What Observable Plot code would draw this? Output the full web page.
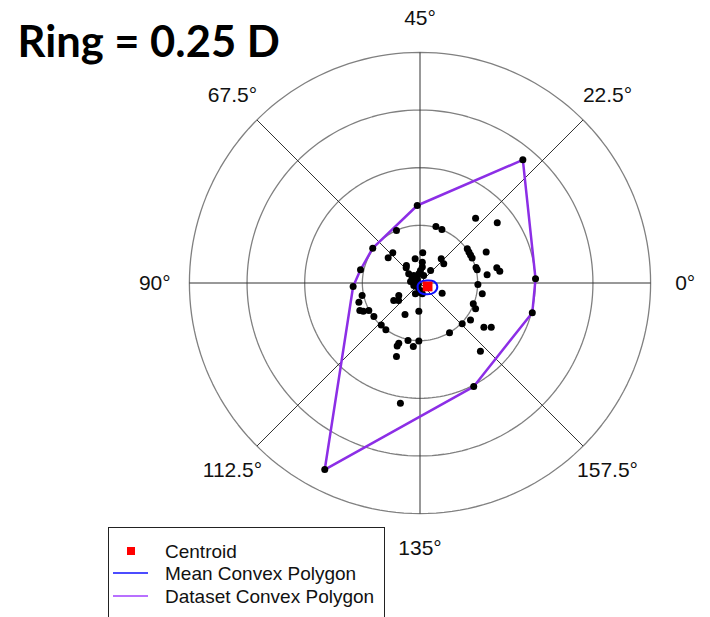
<!DOCTYPE html>
<html><head><meta charset="utf-8">
<script src="https://cdn.jsdelivr.net/npm/d3@7"></script>
<script src="https://cdn.jsdelivr.net/npm/@observablehq/plot@0.6"></script>
<style>
body{margin:0;background:#fff;}
#wrap{position:relative;width:710px;height:617px;overflow:hidden;background:#fff;}
#legend{position:absolute;left:108px;top:527px;}
</style></head>
<body><div id="wrap"></div>
<script>
// ---- data ----
const titleText = "Ring = 0.25 D";
const ringRadii = [0.25, 0.5, 0.75, 1.0];
const axisTicks = [0, 22.5, 45, 67.5, 90, 112.5, 135, 157.5];
// double-angle vector components (D)
const pointX = [0.446,-0.012,-0.205,-0.258,-0.290,-0.413,0.233,0.487,0.501,
 -0.102,-0.118,-0.138,0.012,-0.021,-0.060,-0.049,-0.034,0.002,0.016,-0.012,0.010,0.010,0.092,0.103,0.046,-0.059,
 -0.027,-0.005,-0.027,-0.012,-0.015,-0.005,-0.020,0.096,-0.114,-0.092,-0.093,-0.065,-0.005,-0.052,-0.029,-0.005,
 -0.092,-0.099,-0.102,-0.085,-0.251,-0.265,-0.261,-0.246,-0.222,-0.200,-0.168,-0.148,0.002,0.010,0.251,0.270,
 0.231,0.241,0.219,0.183,0.277,0.309,0.128,0.262,0.241,0.335,0.069,0.095,0.205,0.212,0.219,0.226,0.287,0.243,
 0.248,0.333,0.346,0.291,-0.027,-0.041,-0.007];
const pointY = [0.534,0.336,0.151,0.057,-0.015,-0.809,-0.449,-0.129,0.018,
 0.228,0.131,0.109,0.131,0.105,0.066,0.040,0.023,0.054,0.033,0.018,0.069,0.090,0.105,0.083,0.054,0.076,
 0.033,0.040,0.014,0.011,-0.015,-0.040,-0.047,-0.044,-0.076,-0.054,-0.076,-0.137,-0.122,-0.249,-0.275,-0.252,
 -0.261,-0.273,-0.319,-0.521,-0.054,-0.083,-0.119,-0.122,-0.119,-0.145,-0.182,-0.203,-0.033,-0.047,-0.007,-0.047,
 -0.090,-0.112,-0.160,-0.177,-0.192,-0.192,-0.216,-0.296,0.281,0.261,0.245,0.232,0.148,0.134,0.121,0.108,0.134,0.067,
 0.057,0.066,0.051,0.036,-0.011,0.007,-0.007];
const centroidX = [0.033];
const centroidY = [-0.015];
const meanPolyX = [-0.010,0.002,0.031,0.060,0.075,0.063,0.031,-0.001];
const meanPolyY = [-0.011,0.005,0.011,0.007,-0.015,-0.040,-0.049,-0.040];
const legendLabels = ["Centroid", "Mean Convex Polygon", "Dataset Convex Polygon"];

// ---- build ----
const W = 710, H = 617, cx = 419.5, cy = 282.5, R = 230.6;
const rad = d => d * Math.PI / 180;
const points = pointX.map((x, i) => ({x, y: pointY[i]}));
const meanPoly = meanPolyX.map((x, i) => ({x, y: meanPolyY[i]}));
const centroid = centroidX.map((x, i) => ({x, y: centroidY[i]}));
const ringPts = ringRadii.flatMap(r => d3.range(0, 361, 2).map(a => ({ring: r, x: r * Math.cos(rad(a)), y: r * Math.sin(rad(a))})));
const outer = d3.max(ringRadii);
const labelR = outer * 1.15;

const chart = Plot.plot({
  width: W, height: H, margin: 0,
  x: {domain: [-cx / R, (W - cx) / R], axis: null},
  y: {domain: [(cy - H) / R, cy / R], axis: null},
  style: {fontFamily: "'Liberation Sans', Arial, sans-serif", background: "#fff"},
  marks: [
    Plot.line(ringPts, {x: "x", y: "y", z: "ring", stroke: "#808080", strokeWidth: 1.3}),
    Plot.link(axisTicks, {x1: 0, y1: 0, x2: a => outer * Math.cos(rad(2 * a)), y2: a => outer * Math.sin(rad(2 * a)), stroke: "#333", strokeWidth: 1}),
    Plot.text(axisTicks, {x: a => labelR * Math.cos(rad(2 * a)), y: a => labelR * Math.sin(rad(2 * a)), text: a => a + "°", fontSize: 21, fill: "#111"}),
    Plot.hull(points, {x: "x", y: "y", stroke: "#8c2ee6", strokeWidth: 2.5}),
    Plot.dot(points, {x: "x", y: "y", r: 3.5, fill: "#000"}),
    Plot.line(meanPoly, {x: "x", y: "y", curve: "catmull-rom-closed", stroke: "#1010ff", strokeWidth: 2}),
    Plot.dot(centroid, {x: "x", y: "y", symbol: "square", r: 5.5, fill: "#ff0000"}),
    Plot.text([titleText], {frameAnchor: "top-left", dx: 17, dy: 56, lineAnchor: "bottom", textAnchor: "start", text: d => d, fontSize: 43.5, fontWeight: "bold", fontFamily: "Lato", fill: "#000"})
  ]
});
const wrap = document.getElementById("wrap");
wrap.appendChild(chart);

// legend
const lg = d3.create("svg").attr("id", "legend").attr("width", 278).attr("height", 95)
  .style("font-family", "'Liberation Sans', Arial, sans-serif").style("font-size", "19px");
lg.append("rect").attr("x", 0.5).attr("y", 0.5).attr("width", 276).attr("height", 120).attr("fill", "#fff").attr("stroke", "#222");
const rowY = [24, 46, 69];
lg.append("rect").attr("x", 19).attr("y", rowY[0] - 4).attr("width", 8).attr("height", 8).attr("fill", "#ff0000");
lg.append("line").attr("x1", 5).attr("x2", 40).attr("y1", rowY[1]).attr("y2", rowY[1]).attr("stroke", "#1010ff").attr("stroke-width", 1.3);
lg.append("line").attr("x1", 5).attr("x2", 40).attr("y1", rowY[2]).attr("y2", rowY[2]).attr("stroke", "#a040ff").attr("stroke-width", 1.3);
legendLabels.forEach((t, i) => lg.append("text").attr("x", 57).attr("y", rowY[i] + 7).attr("fill", "#111").text(t));
wrap.appendChild(lg.node());
</script>
</body></html>
